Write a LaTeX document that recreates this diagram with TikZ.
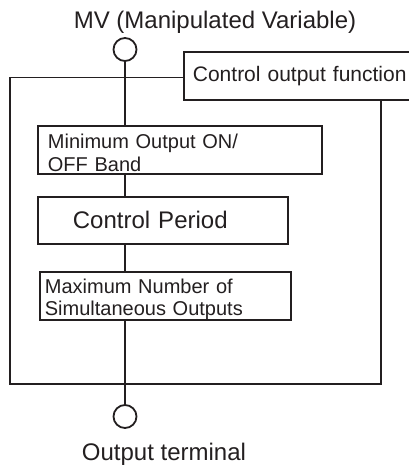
\documentclass[tikz,border=0pt]{standalone}
\usepackage{fontspec}
\setmainfont{Liberation Sans}
\definecolor{ink}{HTML}{231F20}
\begin{document}
\begin{tikzpicture}[x=1pt,y=-1pt,
  wire/.style={line width=1.8pt, draw=ink},
  boxnode/.style={draw=ink, line width=1.8pt, rectangle, anchor=north west, inner ysep=0pt, align=left, text=ink},
  term/.style={draw=ink, line width=1.8pt, circle, minimum size=23pt, inner sep=0pt, outer sep=0pt, fill=white},
  lbl/.style={text=ink, inner sep=0pt}]
\useasboundingbox (0,0) rectangle (408,468);
\node[lbl, anchor=base, font=\fontsize{24}{28}\selectfont] (title) at (215,29) {MV (Manipulated Variable)};
\node[term] (tin) at (125,49.5) {};
\node[term] (tout) at (125,416.5) {};
\node[lbl, anchor=base, font=\fontsize{24}{28}\selectfont] (otl) at (164,460) {Output terminal};
% control output function box (extends past right edge)
\node[boxnode, minimum width=240pt, minimum height=48pt, inner xsep=9pt, text width=222pt,
  font=\fontsize{21}{24}\selectfont] (cof) at (183,51) {Control output function};
% inner boxes
\node[boxnode, minimum width=284pt, minimum height=48pt, inner xsep=10pt, text width=264pt,
  font=\fontsize{20}{23}\selectfont] (b1) at (37,125) {\rule{0pt}{20.5pt}Minimum Output ON/\\OFF Band};
\node[boxnode, minimum width=250pt, minimum height=47pt, inner xsep=35pt, text width=180pt,
  font=\fontsize{24}{28}\selectfont] (b2) at (37,196) {Control Period};
\node[boxnode, minimum width=251pt, minimum height=48pt, inner xsep=5pt, text width=241pt,
  font=\fontsize{20}{22}\selectfont] (b3) at (39,271) {\rule{0pt}{22pt}Maximum Number of\\Simultaneous Outputs};
% frame
\coordinate (ftl) at (10,77.5);
\coordinate (fbl) at (10,384);
\coordinate (fbr) at (381,384);
\draw[wire] (cof.west |- ftl) -- (ftl) -- (fbl) -- (fbr) -- (fbr |- cof.south);
% main signal line
\draw[wire] (tin.south) -- (tin.south |- b1.north);
\draw[wire] (b1.south -| tin) -- (b2.north -| tin);
\draw[wire] (b2.south -| tin) -- (b3.north -| tin);
\draw[wire] (b3.south -| tin) -- (tout.north);
\end{tikzpicture}
\end{document}
